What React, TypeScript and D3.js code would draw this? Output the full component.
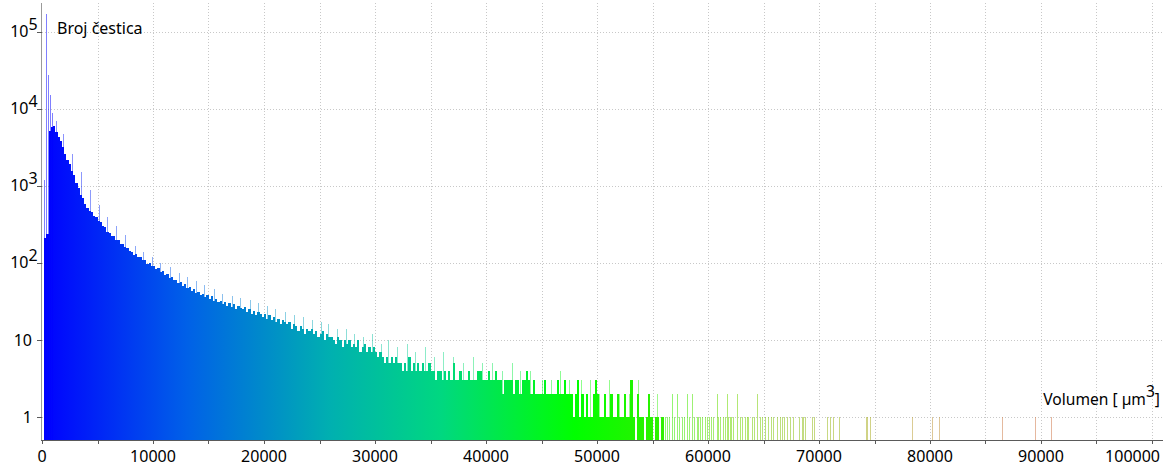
import React from "react";
import * as d3 from "d3";

// ---- data ----
const BIN_WIDTH = 200;
// counts per 200 µm³ bin, 0 – 56000
const countsA = [
  0, 210, 240, 5200, 5900, 6100, 5000, 4300, 3800, 3200,
  2600, 2200, 1950, 1550, 1380, 1080, 950, 770, 690, 580,
  525, 470, 455, 405, 392, 350, 338, 298, 290, 255,
  248, 226, 222, 200, 198, 178, 177, 160, 158, 143,
  140, 128, 130, 118, 120, 108, 110, 98, 101, 91,
];
const countsB = [
  92, 84, 85, 76, 78, 70, 72, 64, 66, 60,
  60, 55, 57, 51, 53, 47, 49, 43, 46, 41,
  42, 38, 40, 36, 38, 34, 37, 32, 34, 31,
  32, 29, 31, 28, 30, 27, 29, 25, 28, 26,
  25, 27, 23, 25, 22, 24, 21, 23, 22, 20,
];
const countsC = [
  22, 19, 21, 18, 20, 17, 19, 16, 18, 17,
  16, 17, 14, 16, 15, 13, 15, 14, 12, 14,
  13, 14, 12, 13, 11, 12, 13, 10, 12, 11,
  11, 10, 9, 11, 10, 8, 10, 9, 10, 8,
  9, 8, 10, 7, 8, 9, 7, 8, 7, 8,
];
const countsD = [
  7, 6, 7, 6, 5, 6, 5, 6, 5, 6,
  5, 5, 4, 5, 4, 6, 4, 5, 4, 5,
  4, 5, 4, 4, 5, 4, 4, 3, 4, 4,
  3, 4, 3, 4, 3, 5, 3, 3, 4, 3,
  3, 3, 4, 3, 3, 3, 4, 4, 3, 3,
];
const countsE = [
  3, 4, 3, 3, 4, 3, 3, 2, 3, 3,
  3, 3, 2, 3, 3, 2, 3, 3, 4, 3,
  2, 3, 2, 2, 2, 2, 3, 2, 2, 2,
  2, 2, 3, 2, 2, 3, 2, 2, 2, 1,
  2, 3, 1, 2, 1, 2, 1, 1, 2, 3,
];
const countsF = [
  2, 1, 1, 2, 1, 1, 2, 1, 1, 2,
  1, 1, 2, 1, 1, 3, 1, 0, 2, 1,
  1, 0, 1, 2, 1, 0, 1, 1, 0, 1,
];

// narrow spikes at very small volumes
const spikeVolumes = [150, 380, 560, 750, 920];
const spikeCounts = [1200, 170000, 28000, 15000, 9000];

// narrow bins standing above the dense envelope
const peakVolumes = [
  1300, 1900, 2700, 3500, 4300, 5100, 5900, 6700, 7500,
  8400, 9100, 9900, 10600, 11500, 12300, 13100, 13900, 14600, 15500,
  16200, 17100, 17800, 18700, 19500, 20300, 21000, 21900, 22700, 23500,
  24300, 25100, 25800, 26600, 27400, 28100, 28900, 29700, 30500, 31200,
  32000, 32900, 33600, 34500, 35300, 36100, 37000, 37900, 38800, 39600,
  40500, 41400, 42300, 43100, 44000, 45000, 45900, 46700, 47500, 48600,
  49400, 50200, 51100, 52000, 52900, 53700, 54600, 55400,
];
const peakCounts = [
  7000, 4800, 2600, 1500, 900, 560, 400, 300, 230,
  165, 140, 118, 100, 90, 75, 66, 58, 52, 46,
  40, 37, 35, 33, 30, 28, 25, 23, 21, 20,
  18, 17, 16, 14, 14, 12, 11, 12, 9, 10,
  8, 9, 7, 8, 6, 7, 6, 5, 6, 5,
  5, 4, 5, 4, 4, 3, 3, 4, 3, 3,
  3, 2, 3, 2, 2, 3, 2, 2,
];

// sparse tail (single narrow bins)
const tailVolumes = [
  56100, 56280, 56500, 56730, 56900, 57180, 57400, 57630, 57800, 58080,
  58300, 58530, 58700, 58980, 59100, 59280, 59500, 59700, 59880, 60100,
  60300, 60480, 60780, 60900, 61080, 61380, 61500, 61680, 61800, 61980,
  62100, 62280, 62580, 62900, 63030, 63330, 63500, 63630, 63930, 64100,
  64380, 64680, 64900, 65130, 65430, 65700, 65880, 66180, 66480, 66680,
  66890, 67130, 67430, 67680, 68180, 68490, 68580, 68700, 69390, 69530,
  70740, 70980, 71280, 71790, 74190, 74280, 74580, 78400, 80200, 80790,
  86500, 89500, 90860,
];
const tailCounts = [
  1, 1, 1, 2, 1, 2, 1, 1, 1, 2,
  1, 2, 1, 1, 1, 1, 1, 1, 1, 1,
  1, 1, 2, 1, 1, 1, 1, 2, 1, 1,
  1, 1, 2, 1, 1, 1, 1, 1, 1, 1,
  2, 1, 1, 1, 1, 1, 1, 1, 1, 1,
  1, 1, 1, 1, 1, 1, 1, 1, 1, 1,
  1, 1, 1, 1, 1, 1, 1, 1, 1, 1,
  1, 1, 1,
];

const xTicks = [0, 10000, 20000, 30000, 40000, 50000, 60000, 70000, 80000, 90000, 100000];
const yTickValues = [1, 10, 100, 1000, 10000, 100000];
const yTickBase = ["1", "10", "10", "10", "10", "10"];
const yTickExp = ["", "", "2", "3", "4", "5"];

const gradStopVolumes = [0, 13000, 26000, 36000, 48000, 56000, 62000, 68000, 74000, 79000, 87000, 100000];
const gradStopColors = [
  "#0000ff", "#0060e8", "#00b0b0", "#00d880", "#00ff00", "#30f000",
  "#70d800", "#90c018", "#a8b020", "#c0a040", "#d08050", "#d07050",
];

// ---- layout ----
const W = 1172;
const H = 466;
const X0 = 42;
const X1 = 1152;
const XEND = 1163;
const YBASE = 440;
const YTOP = 3;
const FONT = "'Noto Sans', 'Open Sans', sans-serif";

export default function App() {
  const x = d3.scaleLinear().domain([0, 100000]).range([X0, X1]);
  const y = d3.scaleLog().domain([1, 100000]).range([417, 32]);

  const dense = [...countsA, ...countsB, ...countsC, ...countsD, ...countsE, ...countsF];
  const bins = dense.map((c, i) => ({ v0: i * BIN_WIDTH, v1: (i + 1) * BIN_WIDTH, c }));

  const gridV = d3.range(5000, 100001, 5000);
  const minorTicks = d3.range(0, 100001, 5000);

  return (
    <svg
      width={W}
      height={H}
      style={{ position: "absolute", left: 0, top: 0, background: "#fff" }}
      fontFamily={FONT}
    >
      <defs>
        <linearGradient id="volGrad" gradientUnits="userSpaceOnUse" x1={x(0)} x2={x(100000)} y1={0} y2={0}>
          {gradStopVolumes.map((v, i) => (
            <stop key={i} offset={v / 100000} stopColor={gradStopColors[i]} />
          ))}
        </linearGradient>
      </defs>
      <rect x={0} y={0} width={W} height={H} fill="#fff" />

      {/* grid */}
      <g stroke="#c8c8c8" strokeWidth={1} strokeDasharray="1,2">
        {gridV.map((v) => (
          <line key={"gv" + v} x1={Math.round(x(v)) + 0.5} x2={Math.round(x(v)) + 0.5} y1={YTOP} y2={YBASE} />
        ))}
        {yTickValues.map((v) => (
          <line key={"gh" + v} x1={X0} x2={XEND} y1={Math.round(y(v)) + 0.5} y2={Math.round(y(v)) + 0.5} />
        ))}
      </g>

      {/* narrow peaks above the envelope */}
      <g fill="url(#volGrad)" fillOpacity={0.45} shapeRendering="crispEdges">
        {peakVolumes.map((v, i) => (
          <rect key={"p" + i} x={Math.round(x(v))} width={1} y={y(peakCounts[i])} height={YBASE - y(peakCounts[i])} />
        ))}
      </g>

      {/* dense histogram */}
      <g fill="url(#volGrad)" shapeRendering="crispEdges">
        {bins
          .filter((b) => b.c > 0)
          .map((b, i) => (
            <rect key={"b" + i} x={x(b.v0)} width={x(b.v1) - x(b.v0)} y={y(b.c)} height={YBASE - y(b.c)} />
          ))}
      </g>

      {/* narrow spikes near the origin */}
      <g fill="#0000ff" fillOpacity={0.5} shapeRendering="crispEdges">
        {spikeVolumes.map((v, i) => (
          <rect key={"s" + i} x={Math.round(x(v))} width={1} y={y(spikeCounts[i])} height={YBASE - y(spikeCounts[i])} />
        ))}
      </g>

      {/* sparse tail */}
      <g fill="url(#volGrad)" fillOpacity={0.55} shapeRendering="crispEdges">
        {tailVolumes.map((v, i) => (
          <rect key={"t" + i} x={Math.round(x(v))} width={1} y={y(tailCounts[i])} height={YBASE - y(tailCounts[i])} />
        ))}
      </g>

      {/* axes */}
      <line x1={X0 - 0.5} x2={X0 - 0.5} y1={YTOP} y2={YBASE} stroke="#9a9a9a" strokeWidth={1} />
      <line x1={X0 - 1} x2={XEND} y1={YBASE + 0.5} y2={YBASE + 0.5} stroke="#5a5a5a" strokeWidth={1} />
      <g stroke="#5a5a5a">
        {minorTicks.map((v) => (
          <line key={"xt" + v} x1={Math.round(x(v)) + 0.5} x2={Math.round(x(v)) + 0.5} y1={YBASE} y2={YBASE + 4} />
        ))}
        {yTickValues.map((v) => (
          <line key={"yt" + v} x1={X0 - 5} x2={X0} y1={Math.round(y(v)) + 0.5} y2={Math.round(y(v)) + 0.5} />
        ))}
      </g>

      {/* x tick labels */}
      <g fontSize={16} fill="#000">
        {xTicks.map((v, i) => (
          <text
            key={"xl" + v}
            x={i === xTicks.length - 1 ? 1160 : x(v)}
            y={461.5}
            textAnchor={i === xTicks.length - 1 ? "end" : "middle"}
          >
            {d3.format("d")(v)}
          </text>
        ))}
      </g>

      {/* y tick labels */}
      <g fontSize={16} fill="#000">
        {yTickValues.map((v, i) =>
          yTickExp[i] ? (
            <g key={"yl" + v}>
              <text x={28.5} y={y(v) + 4.5} textAnchor="end">
                {yTickBase[i]}
              </text>
              <text x={28.5} y={y(v) - 2.5} textAnchor="start">
                {yTickExp[i]}
              </text>
            </g>
          ) : (
            <text key={"yl" + v} x={32} y={y(v) + 5.5} textAnchor="end">
              {yTickBase[i]}
            </text>
          )
        )}
      </g>

      {/* axis titles */}
      <text x={57} y={34} fontSize={16} fill="#000">
        Broj čestica
      </text>
      <text x={1160} y={405} fontSize={15.6} fill="#000" textAnchor="end">
        Volumen [ µm
        <tspan dy={-8}>3</tspan>
        <tspan dy={8}>]</tspan>
      </text>
    </svg>
  );
}
